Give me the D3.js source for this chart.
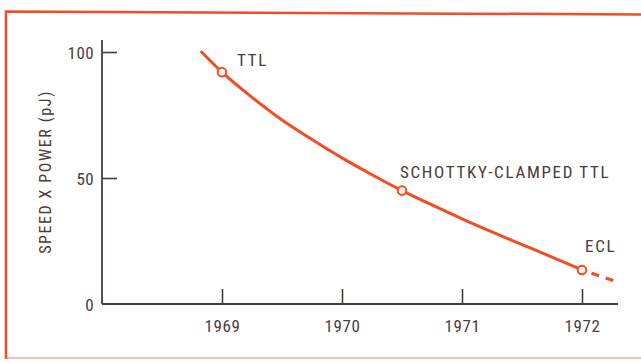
<!DOCTYPE html>
<html>
<head>
<meta charset="utf-8">
<script src="https://cdn.jsdelivr.net/npm/d3@7"></script>
<style>
  html, body { margin: 0; padding: 0; background: #fefefe; }
  svg { display: block; }
  text { font-family: "Liberation Sans Narrow", "Roboto Condensed", "DejaVu Sans Condensed", sans-serif; fill: #4a3d38; }
</style>
</head>
<body>
<svg id="chart" width="641" height="362"></svg>
<script>
// Speed-power product of logic families over time
const years      = [1968.83, 1969, 1969.25, 1969.5, 1969.75, 1970, 1970.25, 1970.5, 1970.75, 1971, 1971.25, 1971.5, 1971.75, 1972];
const speedPower = [100,     92,   82,      73,     65.3,    58,   51.3,    45,     39.3,    33.8, 28.6,    23.6,   18.6,    13.5];
const projYears  = [1972, 1972.3];
const projValues = [13.5, 8.7];

const families     = ["TTL", "SCHOTTKY-CLAMPED TTL", "ECL"];
const familyYears  = [1969, 1970.5, 1972];
const familyValues = [92, 45, 13.5];

const xTicks = [1969, 1970, 1971, 1972];
const yTicks = [0, 50, 100];

const orange = "#f04e25";
const ink = "#4a3d38";

const svg = d3.select("#chart");

// outer frame
svg.append("path")
  .attr("d", "M 6 359 L 6 11.5 L 641 14.5")
  .attr("fill", "none").attr("stroke", orange).attr("stroke-width", 2.5);
svg.append("line")
  .attr("x1", 6).attr("x2", 641).attr("y1", 358).attr("y2", 358)
  .attr("stroke", orange).attr("stroke-width", 2).attr("opacity", 0.35);

const x = d3.scaleLinear().domain([1968, 1972.3]).range([102, 618]);
const y = d3.scaleLinear().domain([0, 100]).range([304, 52]);

// x axis: ticks point upward from the baseline
const xAxis = svg.append("g")
  .attr("transform", `translate(0,${y(0)})`)
  .call(d3.axisBottom(x).tickValues(xTicks).tickFormat(d3.format("d")).tickSize(0).tickPadding(0));
xAxis.select(".domain").attr("stroke", ink).attr("stroke-width", 1.8).attr("d", `M${x.range()[0]},0H${x.range()[1]}`);
xAxis.selectAll(".tick line").attr("stroke", ink).attr("stroke-width", 1.6).attr("y1", 0).attr("y2", -15);
xAxis.selectAll(".tick text").attr("y", 28).attr("dy", 0)
  .style("font-size", "17px").style("letter-spacing", "0.6px").attr("fill", ink);

// y axis: ticks point right into the plot
const yAxis = svg.append("g")
  .attr("transform", `translate(${x.range()[0]},0)`)
  .call(d3.axisLeft(y).tickValues(yTicks).tickSize(0).tickPadding(0));
yAxis.select(".domain").attr("stroke", ink).attr("stroke-width", 1.8).attr("d", `M0,40V${y(0)}`);
yAxis.selectAll(".tick line").attr("stroke", ink).attr("stroke-width", 1.6)
  .attr("x1", 0).attr("x2", d => d === 0 ? 0 : 15);
yAxis.selectAll(".tick text").attr("x", -8).attr("dy", "0.36em")
  .style("font-size", "17px").style("letter-spacing", "0.4px").attr("fill", ink);

// axis title
svg.append("text")
  .attr("transform", "translate(51,172) rotate(-90)")
  .attr("text-anchor", "middle")
  .style("font-size", "16px").style("letter-spacing", "1.6px")
  .text("SPEED X POWER (pJ)");

// trend curve
const line = d3.line().x(d => x(d[0])).y(d => y(d[1])).curve(d3.curveMonotoneX);
svg.append("path")
  .datum(d3.zip(years, speedPower))
  .attr("d", line)
  .attr("fill", "none").attr("stroke", orange).attr("stroke-width", 3).attr("stroke-linecap", "round");

// projection beyond 1972
svg.append("path")
  .datum(d3.zip(projYears, projValues))
  .attr("d", line)
  .attr("fill", "none").attr("stroke", orange).attr("stroke-width", 3.2)
  .attr("stroke-dasharray", "0 10 8 7 8 20");

// family markers
const pts = d3.zip(families, familyYears, familyValues);
svg.selectAll("circle.fam").data(pts).join("circle")
  .attr("class", "fam")
  .attr("cx", d => x(d[1])).attr("cy", d => y(d[2])).attr("r", 4.3)
  .attr("fill", "#fff4ec").attr("stroke", orange).attr("stroke-width", 2);

// family labels
const labelOffsets = { "TTL": [15, -6], "SCHOTTKY-CLAMPED TTL": [-2, -13], "ECL": [3, -18] };
svg.selectAll("text.fam").data(pts).join("text")
  .attr("class", "fam")
  .attr("x", d => x(d[1]) + labelOffsets[d[0]][0])
  .attr("y", d => y(d[2]) + labelOffsets[d[0]][1])
  .style("font-size", "17px").style("letter-spacing", "1.7px")
  .text(d => d[0]);
</script>
</body>
</html>
